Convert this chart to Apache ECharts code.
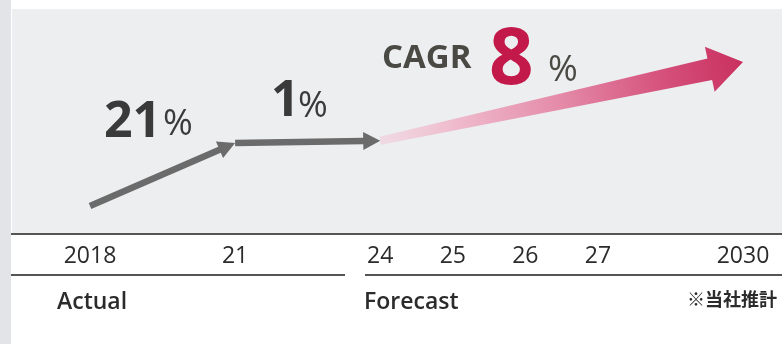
<!DOCTYPE html>
<html>
<head>
<meta charset="utf-8">
<script src="https://cdn.jsdelivr.net/npm/echarts@6/dist/echarts.min.js"></script>
<style>
  html, body { margin: 0; padding: 0; background: #fff; }
  #chart { width: 782px; height: 344px; }
</style>
</head>
<body>
<div id="chart"></div>
<script>
// x slots: blank entries keep the uneven year spacing of the original
var categories = ["2018", "", "21", "", "24", "25", "26", "27", "", "2030"];
// relative market index
var indexValue = [12, null, 40, null, 41, null, null, null, null, 76];
// arrows: [from slot, to slot, kind] kind 0 = actual (grey), 1 = forecast (pink)
var segments = [[0, 2, 0], [2, 4, 0], [4, 9, 1]];

var FONT = "'Open Sans', 'Noto Sans', sans-serif";

var arrowData = segments.map(function (s) {
  return [s[0], indexValue[s[0]], s[1], indexValue[s[1]], s[2]];
});

function renderArrow(params, api) {
  var p0 = api.coord([api.value(0), api.value(1)]);
  var p1 = api.coord([api.value(2), api.value(3)]);
  var kind = api.value(4);
  var dx = p1[0] - p0[0], dy = p1[1] - p0[1];
  var len = Math.sqrt(dx * dx + dy * dy);
  var ux = dx / len, uy = dy / len;
  var nx = -uy, ny = ux;
  var headLen, headHalf, w0, w1, fill;
  if (kind === 0) {
    headLen = 17; headHalf = 9; w0 = 3.2; w1 = 3.2;
    fill = "#6b6b6b";
  } else {
    headLen = 34; headHalf = 23; w0 = 4; w1 = 11;
    fill = {
      type: "linear", global: true,
      x: p0[0], y: p0[1], x2: p1[0], y2: p1[1],
      colorStops: [
        { offset: 0, color: "rgba(242,200,214,0.55)" },
        { offset: 0.2, color: "#efbccd" },
        { offset: 0.5, color: "#e48aa8" },
        { offset: 0.8, color: "#d44d79" },
        { offset: 1, color: "#c9315f" }
      ]
    };
  }
  var bx = p1[0] - ux * headLen, by = p1[1] - uy * headLen;
  var pts = [
    [p0[0] + nx * w0, p0[1] + ny * w0],
    [bx + nx * w1, by + ny * w1],
    [bx + nx * headHalf, by + ny * headHalf],
    [p1[0], p1[1]],
    [bx - nx * headHalf, by - ny * headHalf],
    [bx - nx * w1, by - ny * w1],
    [p0[0] - nx * w0, p0[1] - ny * w0]
  ];
  return { type: "polygon", shape: { points: pts }, style: { fill: fill } };
}

function txt(x, y, text, size, weight, color, align, family) {
  return {
    type: "text", x: x, y: y, silent: true,
    style: {
      text: text, fill: color, align: align || "left", verticalAlign: "middle",
      fontSize: size, fontWeight: weight || "normal", fontFamily: family || FONT
    }
  };
}

var chart = echarts.init(document.getElementById("chart"), null, { renderer: "canvas" });
chart.setOption({
  backgroundColor: "#fff",
  animation: false,
  grid: { left: 90, right: 39, top: 8, bottom: 111 },
  xAxis: {
    type: "category",
    data: categories,
    boundaryGap: false,
    axisLine: { show: false },
    axisTick: { show: false },
    splitLine: { show: false },
    axisLabel: { interval: 0, margin: 12, fontSize: 23, color: "#2b2b2b", fontFamily: FONT }
  },
  yAxis: { type: "value", min: 0, max: 100, show: false },
  graphic: [
    { type: "rect", z: -10, silent: true, shape: { x: 0, y: 0, width: 11, height: 344 }, style: { fill: "#e2e4e7" } },
    { type: "rect", z: -10, silent: true, shape: { x: 12, y: 9, width: 770, height: 224 }, style: { fill: "#eceef0" } },
    { type: "line", silent: true, shape: { x1: 11, y1: 234, x2: 782, y2: 234 }, style: { stroke: "#555", lineWidth: 2 } },
    { type: "line", silent: true, shape: { x1: 11, y1: 275, x2: 345, y2: 275 }, style: { stroke: "#555", lineWidth: 2 } },
    { type: "line", silent: true, shape: { x1: 365, y1: 275, x2: 782, y2: 275 }, style: { stroke: "#555", lineWidth: 2 } },
    txt(104, 123, "21", 50, "bold", "#3a3a3a"),
    txt(163, 125, "%", 36, "normal", "#3a3a3a"),
    txt(271, 102, "1", 50, "bold", "#3a3a3a"),
    txt(298, 107, "%", 36, "normal", "#3a3a3a"),
    txt(382, 59, "CAGR", 33, "bold", "#4b4944"),
    txt(489, 62, "8", 78, "bold", "#c2184a"),
    txt(548, 71, "%", 36, "normal", "#4b4944"),
    txt(57, 302, "Actual", 23, "600", "#2b2b2b"),
    txt(364, 302, "Forecast", 23, "600", "#2b2b2b"),
    txt(777, 299, "※当社推計", 18, "bold", "#2b2b2b", "right", "'Noto Sans CJK JP', sans-serif")
  ],
  series: [
    {
      type: "custom",
      renderItem: renderArrow,
      data: arrowData,
      encode: { x: [0, 2], y: [1, 3] },
      silent: true
    }
  ]
});
</script>
</body>
</html>
